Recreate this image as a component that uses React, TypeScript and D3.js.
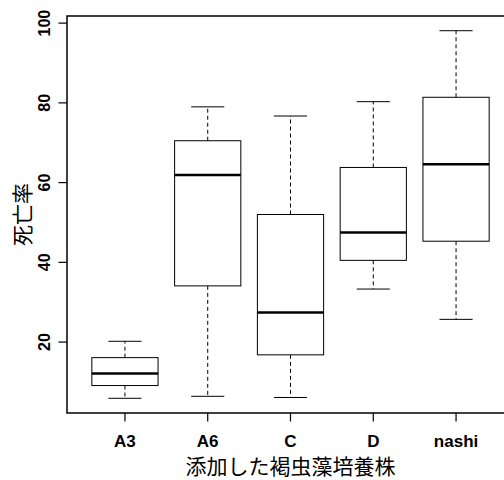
import React from "react";
import * as d3 from "d3";

const categories = ["A3", "A6", "C", "D", "nashi"];
const lowWhisker = [5.9, 6.4, 6.1, 33.3, 25.7];
const q1 = [9.1, 34.1, 16.8, 40.5, 45.3];
const median = [12.1, 61.9, 27.4, 47.5, 64.6];
const q3 = [16.1, 70.5, 52.0, 63.8, 81.4];
const highWhisker = [20.2, 79.0, 76.7, 80.3, 98.1];
const yTicks = [20, 40, 60, 80, 100];
const xTitle = "添加した褐虫藻培養株";
const yTitle = "死亡率";

const W = 504;
const H = 480;
const left = 67;
const right = 514;
const top = 16;
const bottom = 413;

export default function App() {
  const n = categories.length;
  const x = d3.scaleLinear().domain([0.5 - 0.04 * n, n + 0.5 + 0.04 * n]).range([left, right]);
  const lo = d3.min(lowWhisker) as number;
  const hi = d3.max(highWhisker) as number;
  const pad = (hi - lo) * 0.04;
  const y = d3.scaleLinear().domain([lo - pad, hi + pad]).range([bottom, top]);
  const unit = x(2) - x(1);
  const boxW = unit * 0.8;
  const capW = unit * 0.4;
  const font = "'Liberation Sans', Arial, sans-serif";
  const cjk = "'Noto Sans CJK JP', 'Noto Sans CJK SC', sans-serif";

  return (
    <svg width={W} height={H} style={{ position: "absolute", left: 0, top: 0, background: "#fff" }}>
      <rect x={0} y={0} width={W} height={H} fill="#fff" />
      {categories.map((c, i) => {
        const cx = x(i + 1);
        return (
          <g key={c}>
            <line x1={cx} x2={cx} y1={y(q3[i])} y2={y(highWhisker[i])} stroke="#000" strokeWidth={1} strokeDasharray="4,3" />
            <line x1={cx} x2={cx} y1={y(q1[i])} y2={y(lowWhisker[i])} stroke="#000" strokeWidth={1} strokeDasharray="4,3" />
            <line x1={cx - capW / 2} x2={cx + capW / 2} y1={y(highWhisker[i])} y2={y(highWhisker[i])} stroke="#000" strokeWidth={1} />
            <line x1={cx - capW / 2} x2={cx + capW / 2} y1={y(lowWhisker[i])} y2={y(lowWhisker[i])} stroke="#000" strokeWidth={1} />
            <rect x={cx - boxW / 2} y={y(q3[i])} width={boxW} height={y(q1[i]) - y(q3[i])} fill="#fff" stroke="#000" strokeWidth={1} />
            <line x1={cx - boxW / 2} x2={cx + boxW / 2} y1={y(median[i])} y2={y(median[i])} stroke="#000" strokeWidth={2.5} />
          </g>
        );
      })}
      <rect x={left} y={top} width={right - left} height={bottom - top} fill="none" stroke="#000" strokeWidth={1.5} />
      {yTicks.map((t) => (
        <g key={t}>
          <line x1={left - 8.5} x2={left} y1={y(t)} y2={y(t)} stroke="#000" strokeWidth={1.2} />
          <text
            transform={`translate(${50},${y(t)}) rotate(-90)`}
            textAnchor="middle"
            fontFamily={font}
            fontWeight="bold"
            fontSize={16}
            fill="#000"
          >
            {t}
          </text>
        </g>
      ))}
      {categories.map((c, i) => (
        <g key={c}>
          <line x1={x(i + 1)} x2={x(i + 1)} y1={bottom} y2={bottom + 8.5} stroke="#000" strokeWidth={1.2} />
          <text x={x(i + 1)} y={447} textAnchor="middle" fontFamily={font} fontWeight="bold" fontSize={17} fill="#000">
            {c}
          </text>
        </g>
      ))}
      <text x={(left + right) / 2} y={474} textAnchor="middle" fontFamily={cjk} fontSize={21} fill="#000">
        {xTitle}
      </text>
      <text
        transform={`translate(${30},${(top + bottom) / 2}) rotate(-90)`}
        textAnchor="middle"
        fontFamily={cjk}
        fontSize={21}
        fill="#000"
      >
        {yTitle}
      </text>
    </svg>
  );
}
